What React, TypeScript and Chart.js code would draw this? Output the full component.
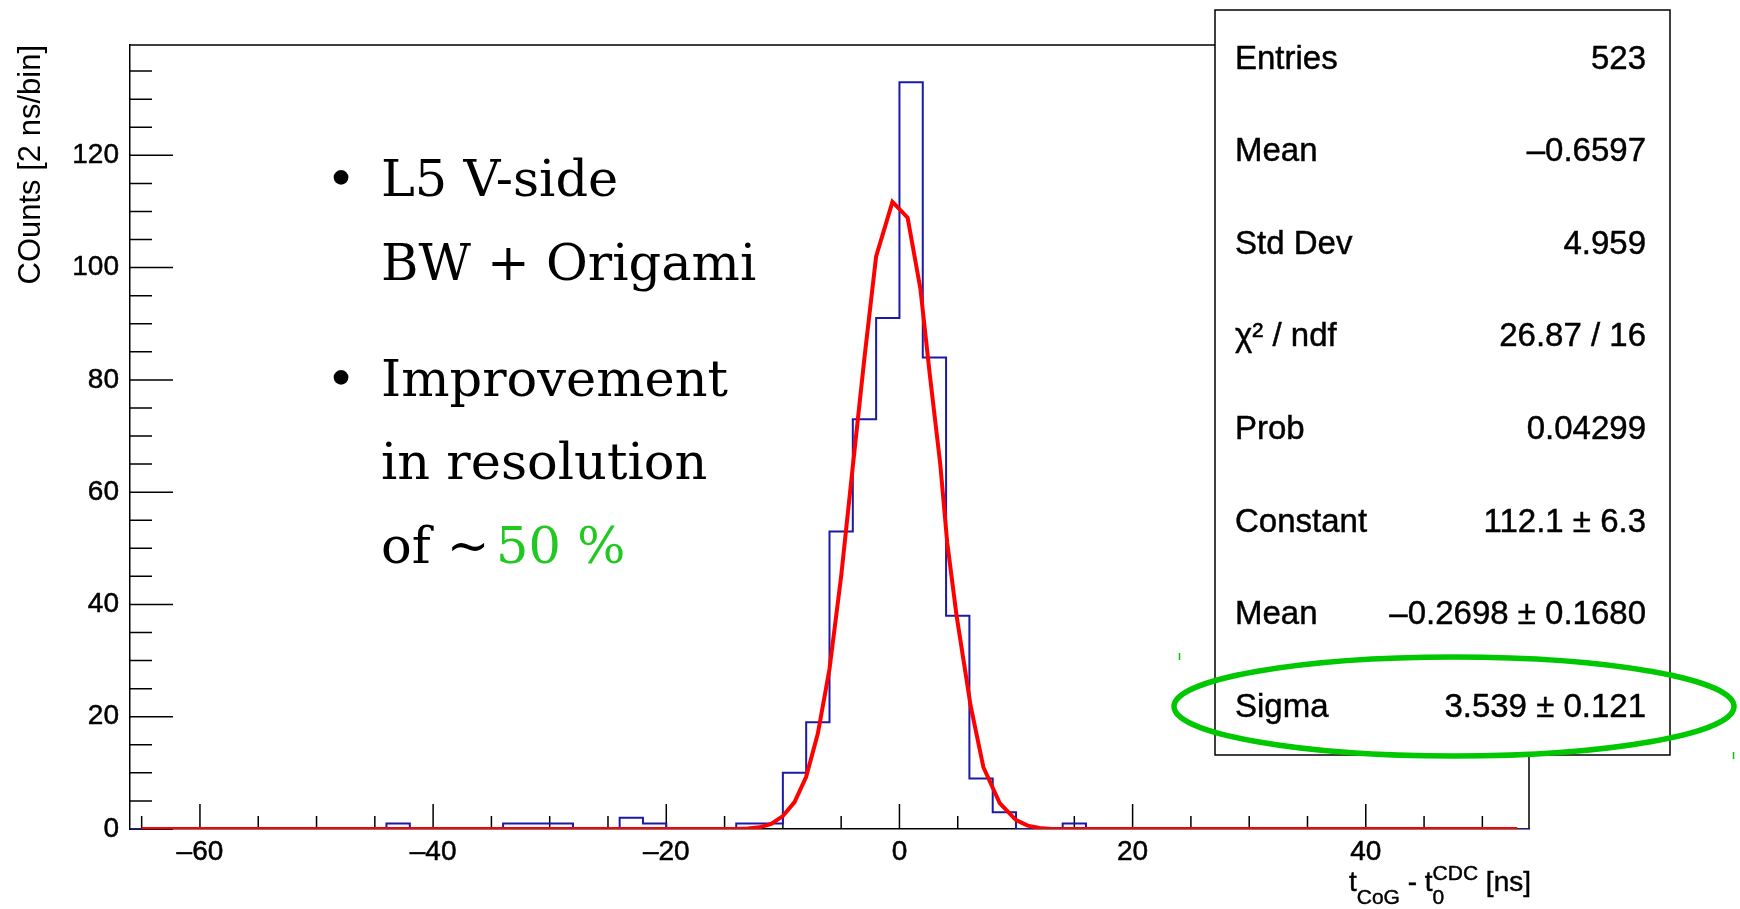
import React, { useEffect, useRef } from "react";
import { Chart, registerables } from "chart.js";

Chart.register(...registerables);

// ---------- data ----------
const binStart = -66; // ns, low edge of first bin
const binWidth = 2; // ns per bin
const binCounts = [
  0, 0, 0, 0, 0, 0, 0, 0, 0, 0,
  0, 1, 0, 0, 0, 0, 1, 1, 1, 0,
  0, 2, 1, 0, 0, 0, 1, 1, 10, 19,
  53, 73, 91, 133, 84, 38, 9, 3, 0, 0,
  1, 0, 0, 0, 0, 0, 0, 0, 0, 0,
  0, 0, 0, 0, 0, 0, 0, 0, 0, 0,
];

const fitX = [-65, -14, -13, -12, -11, -10, -9, -8, -7, -6, -5, -4, -3, -2, -0.6, 0.7, 1.8, 2.6, 3.5, 4.1, 4.9, 6.1, 7.2, 8.6, 10, 11, 12, 13, 53];
const fitY = [0, 0, 0.1, 0.3, 0.9, 2.3, 4.8, 9.3, 17, 28.5, 45, 64.6, 84, 102, 111.7, 108.9, 96.2, 81, 65, 51, 38, 22, 11, 4.6, 1.6, 0.6, 0.2, 0, 0];

const xMin = -66;
const xMax = 54;
const yMin = 0;
const yMax = 139.65;
const xTickValues = [-60, -40, -20, 0, 20, 40];
const yTickValues = [0, 20, 40, 60, 80, 100, 120];
const xMinorStep = 5;
const yMinorStep = 5;

const yTitle = "COunts [2 ns/bin]";

const statLabels = ["Entries", "Mean", "Std Dev", "\u03C7\u00B2 / ndf", "Prob", "Constant", "Mean", "Sigma"];
const statValues = ["523", "\u20130.6597", "4.959", "26.87 / 16", "0.04299", "112.1 \u00B1 6.3", "\u20130.2698 \u00B1 0.1680", "3.539 \u00B1 0.121"];

const noteLines = [
  { bullet: true, text: "L5 V-side", green: "" },
  { bullet: false, text: "BW + Origami", green: "" },
  { bullet: true, text: "Improvement", green: "" },
  { bullet: false, text: "in resolution", green: "" },
  { bullet: false, text: "of ~", green: "50 %" },
];

const SANS = "'Liberation Sans', Arial, Helvetica, sans-serif";
const SERIF = "'DejaVu Serif', 'Liberation Serif', serif";

const rootPlugin = {
  id: "rootDecor",
  beforeDatasetsDraw(chart: any) {
    const { ctx, chartArea: a, scales } = chart;
    const x = scales.x;
    const y = scales.y;
    ctx.save();
    ctx.strokeStyle = "#000";
    ctx.lineWidth = 1.5;
    // frame top & right
    ctx.beginPath();
    ctx.moveTo(a.left, a.top);
    ctx.lineTo(a.right, a.top);
    ctx.lineTo(a.right, a.bottom);
    ctx.stroke();
    // y ticks (inward)
    ctx.beginPath();
    for (let k = Math.ceil(yMin / yMinorStep); k * yMinorStep <= yMax; k++) {
      const v = k * yMinorStep;
      const py = y.getPixelForValue(v);
      const major = yTickValues.includes(v);
      const len = major ? 43 : 22;
      ctx.moveTo(a.left, py);
      ctx.lineTo(a.left + len, py);
    }
    // x ticks (upward)
    for (let k = Math.ceil(xMin / xMinorStep); k * xMinorStep <= xMax; k++) {
      const v = k * xMinorStep;
      const px = x.getPixelForValue(v);
      const major = xTickValues.includes(v);
      const len = major ? 25 : 13;
      ctx.moveTo(px, a.bottom);
      ctx.lineTo(px, a.bottom - len);
    }
    ctx.stroke();
    ctx.restore();
  },
  afterDraw(chart: any) {
    const { ctx, chartArea: a } = chart;
    ctx.save();

    const drawText = (t: string, px: number, py: number, stroke = 0.45) => {
      ctx.fillText(t, px, py);
      if (stroke > 0) {
        ctx.lineWidth = stroke;
        ctx.strokeStyle = ctx.fillStyle;
        ctx.strokeText(t, px, py);
      }
    };

    // x-axis title with sub/superscripts, right aligned
    const mainF = `28px ${SANS}`;
    const subF = `21px ${SANS}`;
    const w = (t: string, f: string) => {
      ctx.font = f;
      return ctx.measureText(t).width;
    };
    const parts = [
      { t: "t", f: mainF, dy: 0 },
      { t: "CoG", f: subF, dy: 13 },
      { t: " - ", f: mainF, dy: 0 },
      { t: "t", f: mainF, dy: 0 },
    ];
    const stackW = Math.max(w("0", subF), w("CDC", subF));
    const tail = " [ns]";
    let total = 0;
    parts.forEach((p) => (total += w(p.t, p.f)));
    total += stackW + w(tail, mainF);
    const base = 891;
    let cx = a.right + 2 - total;
    ctx.fillStyle = "#000";
    ctx.textBaseline = "alphabetic";
    ctx.textAlign = "left";
    parts.forEach((p) => {
      ctx.font = p.f;
      drawText(p.t, cx, base + p.dy);
      cx += ctx.measureText(p.t).width;
    });
    ctx.font = subF;
    drawText("0", cx, base + 13);
    drawText("CDC", cx, base - 11);
    cx += stackW;
    ctx.font = mainF;
    drawText(tail, cx, base);

    // stats box
    const bx = 1215, by = 10, bw = 455, bh = 745;
    ctx.fillStyle = "#fff";
    ctx.fillRect(bx, by, bw, bh);
    ctx.strokeStyle = "#000";
    ctx.lineWidth = 1.5;
    ctx.strokeRect(bx, by, bw, bh);
    ctx.fillStyle = "#000";
    ctx.font = `33px ${SANS}`;
    for (let i = 0; i < statLabels.length; i++) {
      const yy = 68.5 + i * 92.6;
      ctx.textAlign = "left";
      drawText(statLabels[i], 1235, yy);
      ctx.textAlign = "right";
      drawText(statValues[i], 1646, yy);
    }

    // annotation text
    ctx.font = `51px ${SERIF}`;
    ctx.textAlign = "left";
    const baselines = [196, 280, 396, 479, 563];
    noteLines.forEach((ln, i) => {
      ctx.fillStyle = "#000";
      if (ln.bullet) ctx.fillText("\u2022", 326, baselines[i]);
      ctx.fillText(ln.text, 381, baselines[i]);
      if (ln.green) {
        ctx.fillStyle = "#22C822";
        ctx.fillText(ln.green, 496, baselines[i]);
      }
    });

    // green ellipse highlight
    ctx.strokeStyle = "#00C800";
    ctx.lineWidth = 5.5;
    ctx.beginPath();
    ctx.ellipse(1454, 706.5, 280, 49.5, 0, 0, Math.PI * 2);
    ctx.stroke();
    ctx.lineWidth = 1.5;
    ctx.beginPath();
    ctx.moveTo(1179.5, 653);
    ctx.lineTo(1179.5, 660);
    ctx.moveTo(1733.5, 752);
    ctx.lineTo(1733.5, 759);
    ctx.stroke();

    ctx.restore();
  },
};

export default function App() {
  const ref = useRef<HTMLCanvasElement>(null);

  useEffect(() => {
    document.body.style.margin = "0";
    const canvas = ref.current;
    if (!canvas) return;

    const histData: { x: number; y: number }[] = binCounts.map((c, i) => ({ x: binStart + i * binWidth, y: c }));
    histData.push({ x: binStart + binCounts.length * binWidth, y: binCounts[binCounts.length - 1] });
    const fitData = fitX.map((xv, i) => ({ x: xv, y: fitY[i] }));

    const chart = new Chart(canvas, {
      type: "line",
      data: {
        datasets: [
          {
            label: "gaus fit",
            data: fitData,
            borderColor: "#FF0000",
            borderWidth: 4,
            pointRadius: 0,
            tension: 0,
            fill: false,
          },
          {
            label: "histogram",
            data: histData,
            borderColor: "#1a1aa6",
            borderWidth: 2,
            pointRadius: 0,
            stepped: true,
            fill: false,
          },
        ],
      },
      options: {
        animation: false,
        responsive: false,
        devicePixelRatio: 1,
        layout: { padding: { left: 0, top: 45, right: 211, bottom: 0 } },
        plugins: { legend: { display: false }, tooltip: { enabled: false } },
        scales: {
          x: {
            type: "linear",
            min: xMin,
            max: xMax,
            grid: { display: false, drawTicks: false },
            border: { display: true, color: "#000", width: 1.5 },
            afterBuildTicks: (s: any) => {
              s.ticks = xTickValues.map((v) => ({ value: v }));
            },
            afterFit: (s: any) => {
              s.height = 80;
            },
            ticks: {
              autoSkip: false,
              maxRotation: 0,
              padding: 6,
              color: "#000",
              textStrokeColor: "#000",
              textStrokeWidth: 0.5,
              font: { family: SANS, size: 28 },
              callback: (v: any) => String(v).replace("-", "\u2013"),
            },
          },
          y: {
            type: "linear",
            min: yMin,
            max: yMax,
            grid: { display: false, drawTicks: false },
            border: { display: true, color: "#000", width: 1.5 },
            afterBuildTicks: (s: any) => {
              s.ticks = yTickValues.map((v) => ({ value: v }));
            },
            afterFit: (s: any) => {
              s.width = 130;
            },
            title: {
              display: true,
              text: yTitle,
              align: "end",
              color: "#000",
              font: { family: SANS, size: 31 },
              padding: { top: 13, bottom: 0 },
            },
            ticks: {
              autoSkip: false,
              padding: 11,
              color: "#000",
              textStrokeColor: "#000",
              textStrokeWidth: 0.5,
              font: { family: SANS, size: 28 },
              callback: (v: any) => String(v),
            },
          },
        },
      },
      plugins: [rootPlugin],
    } as any);

    return () => chart.destroy();
  }, []);

  return (
    <div style={{ width: 1740, height: 909, background: "#fff", position: "relative" }}>
      <canvas ref={ref} width={1740} height={909} style={{ display: "block", width: 1740, height: 909 }} />
    </div>
  );
}
